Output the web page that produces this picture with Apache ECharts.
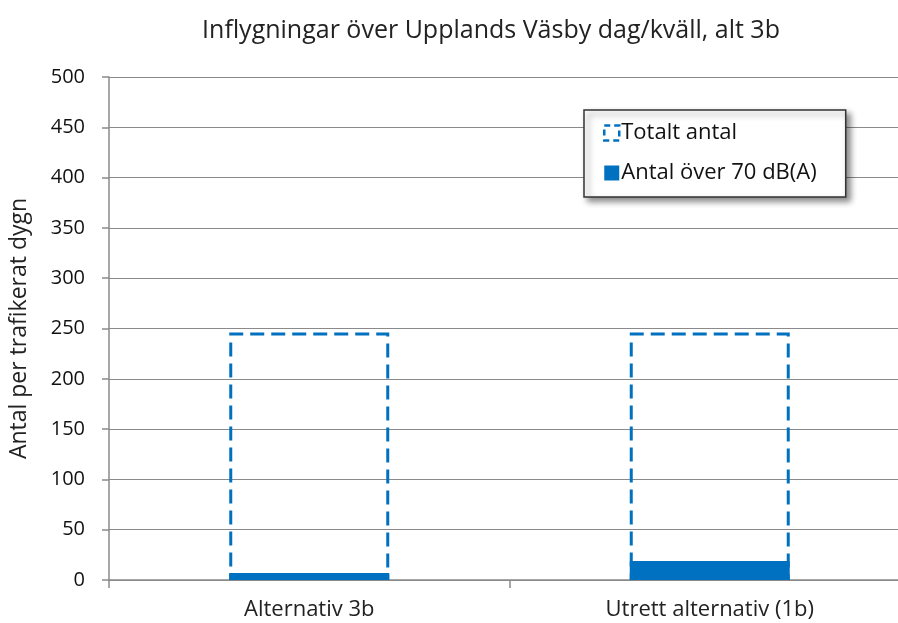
<!DOCTYPE html>
<html>
<head>
<meta charset="utf-8">
<script src="https://cdn.jsdelivr.net/npm/echarts@6/dist/echarts.min.js"></script>
<style>
  html, body { margin: 0; padding: 0; background: #fff; overflow: hidden; }
  #chart { width: 912px; height: 623px; }
</style>
</head>
<body>
<div id="chart"></div>
<script>
// data
var categories = ['Alternativ 3b', 'Utrett alternativ (1b)'];
var totaltAntal = [246, 246];
var antalOver70 = [7, 19];
var yTicks = {min: 0, max: 500, interval: 50};

var blue = '#0070c0';
var font = '"Open Sans", "Noto Sans", sans-serif';

var myChart = echarts.init(document.getElementById('chart'));

var option = {
    backgroundColor: '#fff',
    animation: false,
    title: {
        text: 'Inflygningar över Upplands Väsby dag/kväll, alt 3b',
        left: 486,
        top: 13,
        textAlign: 'center',
        textStyle: {fontFamily: font, fontSize: 25, fontWeight: 'normal', color: '#222'}
    },
    legend: {
        orient: 'vertical',
        left: 584,
        top: 110,
        padding: [12, 29, 13, 19],
        itemGap: 18,
        itemWidth: 15,
        itemHeight: 15,
        backgroundColor: '#fff',
        borderColor: '#333',
        borderWidth: 1.5,
        borderRadius: 0,
        shadowColor: 'rgba(0,0,0,0.45)',
        shadowBlur: 6,
        shadowOffsetX: 4,
        shadowOffsetY: 4,
        textStyle: {fontFamily: font, fontSize: 22, color: '#111', padding: [0, 0, 0, -3]},
        data: [
            {name: 'Totalt antal', icon: 'rect', itemStyle: {color: '#fff', borderColor: blue, borderWidth: 2.5, borderType: [6, 4]}},
            {name: 'Antal över 70 dB(A)', icon: 'rect', itemStyle: {color: blue}}
        ]
    },
    grid: {left: 109, top: 77, width: 801, height: 503, containLabel: false},
    xAxis: {
        type: 'category',
        data: categories,
        axisLine: {lineStyle: {color: '#8a8a8a', width: 1.5}},
        axisTick: {show: true, length: 8, lineStyle: {color: '#8a8a8a', width: 1.5}},
        axisLabel: {fontFamily: font, fontSize: 22, color: '#222', margin: 19}
    },
    yAxis: {
        type: 'value',
        min: yTicks.min,
        max: yTicks.max,
        interval: yTicks.interval,
        name: 'Antal per trafikerat dygn',
        nameLocation: 'middle',
        nameGap: 78,
        nameTextStyle: {fontFamily: font, fontSize: 23, color: '#222'},
        axisLine: {show: true, lineStyle: {color: '#8a8a8a', width: 1.5}},
        axisTick: {show: true, length: 7, lineStyle: {color: '#8a8a8a', width: 1.5}},
        axisLabel: {fontFamily: font, fontSize: 20, color: '#111', margin: 24},
        splitLine: {lineStyle: {color: '#8a8a8a', width: 1.2}}
    },
    series: [
        {
            name: 'Totalt antal',
            type: 'bar',
            barWidth: 160,
            barGap: '-100%',
            data: totaltAntal,
            z: 3,
            itemStyle: {
                color: 'rgba(255,255,255,0)',
                borderColor: blue,
                borderWidth: 3,
                borderType: [14, 7]
            }
        },
        {
            name: 'Antal över 70 dB(A)',
            type: 'bar',
            barWidth: 160,
            data: antalOver70,
            z: 2,
            itemStyle: {color: blue}
        }
    ]
};

myChart.setOption(option);
</script>
</body>
</html>
